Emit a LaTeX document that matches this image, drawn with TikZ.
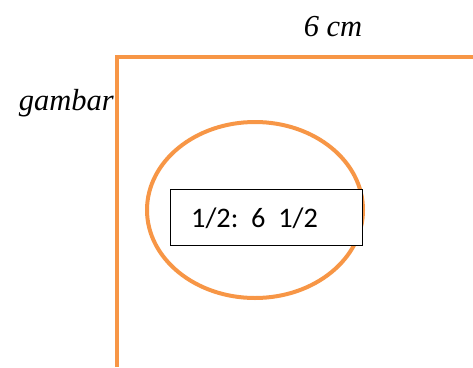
\documentclass[tikz,border=0pt]{standalone}
\usepackage{fontspec}
\setmainfont{Liberation Serif}
\newfontfamily\boxfont{Carlito}
\usetikzlibrary{shapes.geometric}
\definecolor{oranye}{HTML}{F79646}
\begin{document}
\begin{tikzpicture}[
    x=1pt, y=-1pt,
    garis/.style={draw=oranye, line width=4pt},
    label/.style={font=\fontsize{30.5}{35}\selectfont\itshape, inner sep=0pt},
    kotak/.style={draw=black, line width=0.8pt, minimum width=192pt,
        minimum height=56pt, inner sep=0pt,
        font=\boxfont\fontsize{28}{32}\selectfont}
]
  \useasboundingbox (0,0) rectangle (473,367);
  % sudut gambar
  \draw[garis] (117,367) -- (117,57) -- (475,57);
  % lingkaran
  \node[garis, ellipse, minimum width=216pt, minimum height=176pt,
      inner sep=0pt] (lingkaran) at (255,210) {};
  % kotak keterangan
  \node[kotak, fill=white] (skala) at (266,217) {};
  \node[anchor=west, inner sep=0pt, font=\boxfont\fontsize{28.3}{32}\selectfont]
      (teks) at (191,218) {1/2:\ \ 6\ \ 1/2};
  % label
  \node[label] (ukuran) at (333,27) {6 cm};
  \node[label, anchor=east] (nama) at (114,103) {gambar};
\end{tikzpicture}
\end{document}
